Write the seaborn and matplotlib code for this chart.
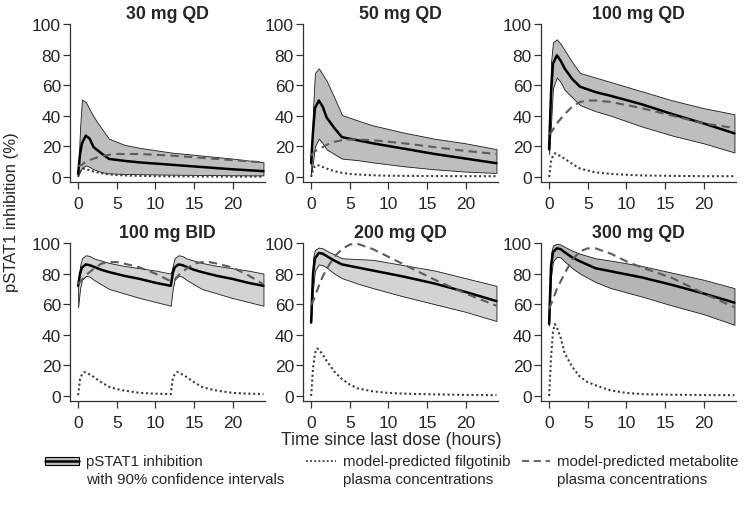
import matplotlib
matplotlib.use("Agg")
import numpy as np
import pandas as pd
import matplotlib.pyplot as plt
import seaborn as sns
from matplotlib.patches import Rectangle
from matplotlib.lines import Line2D

sns.set_style("ticks")
plt.rcParams['font.family'] = ['Liberation Sans', 'DejaVu Sans']

# ---------------- data ----------------
panels = ["30 mg QD", "50 mg QD", "100 mg QD", "100 mg BID", "200 mg QD", "300 mg QD"]

t_qd = [0, 0.25, 0.5, 1, 1.5, 2, 3, 4, 6, 8, 12, 16, 20, 24]
t_bid = [0, 0.25, 0.5, 1, 1.5, 2, 3, 4, 6, 8, 10, 12,
         12.25, 12.5, 13, 13.5, 14, 15, 16, 18, 20, 22, 24]

t_pk = [0, 0.25, 0.5, 0.75, 1, 1.5, 2, 3, 4, 5, 6, 8, 10, 12, 16, 20, 24]
t_pk_bid = [0, 0.25, 0.5, 0.75, 1, 1.5, 2, 3, 4, 5, 6, 8, 10, 12,
            12.25, 12.5, 12.75, 13, 13.5, 14, 15, 16, 17, 18, 20, 22, 24]

# pSTAT1 inhibition: upper 90% CI, median, lower 90% CI
upper_30 = [2, 32, 50.5, 49, 44, 39.5, 32, 25, 21, 19, 16, 14, 12, 9.6]
median_30 = [2, 15, 22, 27, 25, 19.5, 15.5, 11.8, 10.5, 9.5, 8, 6.5, 5, 3.8]
lower_30 = [1, 3.5, 6, 7.6, 6.5, 5, 3.2, 2.3, 2, 1.8, 1.5, 1.3, 1.1, 1]

upper_50 = [5, 45, 68, 71, 67, 63, 52, 40.5, 37, 33.7, 29, 25, 22, 18.2]
median_50 = [9, 30, 45, 50, 46, 39, 32, 26, 24, 22, 18.5, 15, 12, 9]
lower_50 = [2, 10, 20, 25, 22, 18, 15, 12, 11, 9.5, 7, 5, 3.5, 2.6]

upper_100 = [30, 75, 88, 90, 87, 83, 75, 68, 65, 62, 56, 50, 45, 41]
median_100 = [18, 55, 74, 79.5, 76, 71, 64, 59, 55.5, 53, 47.5, 41, 35, 28.5]
lower_100 = [15, 35, 58, 65, 62, 57, 52, 47, 43, 40, 33, 27, 22, 16]

upper_bid = [72, 85, 90, 92, 91.5, 90, 88.5, 87, 85, 83.5, 82, 80,
             85, 90, 92, 91.5, 90, 88.5, 87, 85, 83.5, 82, 80]
median_bid = [72, 80, 84, 86, 85.5, 84.5, 82.5, 81, 78.5, 76.5, 74, 72,
              80, 84, 86, 85.5, 84.5, 82.5, 81, 78.5, 76.5, 74, 72]
lower_bid = [58, 70, 76, 78.5, 78, 76, 73, 70, 67, 64, 61.5, 59,
             70, 76, 78.5, 78, 76, 73, 70, 67, 64, 61.5, 59]

upper_200 = [60, 90, 95.5, 97, 96.5, 95, 92.5, 90, 89.5, 89, 85.5, 82, 77, 72]
median_200 = [48, 80, 90, 93.5, 93, 91.5, 88.5, 86, 84, 82, 78, 73.5, 68, 62]
lower_200 = [48, 70, 82, 86, 85.5, 84, 80, 77, 73.5, 70.5, 65, 60, 55, 49]

upper_300 = [60, 93, 98.5, 99.5, 99, 97.5, 95, 93, 90, 88.5, 85, 80.5, 76, 70.5]
median_300 = [47, 85, 94, 96.5, 96, 94, 90.5, 88, 83.5, 81.5, 77.5, 72.5, 67, 61]
lower_300 = [46, 78, 88, 91, 90.5, 88, 83.5, 80, 74.5, 70.5, 65, 59, 53.5, 46.5]

# model-predicted metabolite plasma concentrations
metab_30 = [7, 7.5, 8, 9, 10, 11, 12, 13.5, 14.5, 15, 15, 15, 14.5, 14, 12.5, 11, 9.5]
metab_50 = [14, 15.5, 17, 17.5, 18, 19.5, 21, 23, 24, 24.5, 24.5, 24, 23, 22, 19.5, 17, 15]
metab_100 = [28, 29, 31, 33, 35, 38, 41, 46, 49, 50, 50, 49, 47, 45, 40, 35, 32]
metab_bid = [73, 74.5, 76, 77.5, 79, 81, 83, 86.5, 87.5, 87.5, 86.5, 84, 80, 75,
             75.5, 76, 77.5, 79, 81, 83, 86.5, 87.5, 87.5, 86.5, 84, 79, 73]
metab_200 = [59.5, 62, 65, 68.5, 72, 78, 83, 91, 96, 99, 99.5, 96, 91, 86, 76, 67, 59]
metab_300 = [57, 60, 63, 66.5, 70, 75, 80, 89, 94.5, 96.5, 96.5, 93, 88, 84, 77, 67, 58]

# model-predicted filgotinib plasma concentrations
filg_30 = [0, 3.5, 5, 5.5, 5.2, 4.3, 3.5, 2.5, 1.7, 1.3, 1, 0.7, 0.5, 0.4, 0.3, 0.2, 0.2]
filg_50 = [0, 5, 7, 7.8, 7.5, 6.5, 5.5, 3.8, 2.7, 2, 1.6, 1.1, 0.8, 0.7, 0.6, 0.5, 0.5]
filg_100 = [0, 10, 14, 15.5, 15, 13.5, 12, 8.5, 5.5, 4.2, 3, 2, 1.4, 1, 0.7, 0.5, 0.5]
filg_bid = [0.5, 11, 14, 15.5, 15.5, 14, 12.5, 9, 6, 4.5, 3.5, 2, 1.5, 1.2,
            11, 14, 15.5, 15.5, 14, 12.5, 9, 6, 4.5, 3.5, 2, 1.5, 1.2]
filg_200 = [0, 18, 28, 31, 30.5, 27, 23, 16, 11, 7.5, 5, 3, 2, 1.5, 1, 0.7, 0.5]
filg_300 = [0, 25, 42, 47, 45, 38, 28, 19, 12.5, 9, 7, 3.5, 2, 1.2, 0.8, 0.6, 0.5]

band_colors = ["#bebebe", "#bebebe", "#bebebe", "#d3d3d3", "#d3d3d3", "#b5b5b5"]

series = [
    (t_qd, upper_30, median_30, lower_30, t_pk, metab_30, filg_30),
    (t_qd, upper_50, median_50, lower_50, t_pk, metab_50, filg_50),
    (t_qd, upper_100, median_100, lower_100, t_pk, metab_100, filg_100),
    (t_bid, upper_bid, median_bid, lower_bid, t_pk_bid, metab_bid, filg_bid),
    (t_qd, upper_200, median_200, lower_200, t_pk, metab_200, filg_200),
    (t_qd, upper_300, median_300, lower_300, t_pk, metab_300, filg_300),
]

xticks = [0, 5, 10, 15, 20]
yticks = [0, 20, 40, 60, 80, 100]

# ---------------- figure ----------------
W, H = 749, 506
fig = plt.figure(figsize=(W / 100, H / 100), dpi=100)

col_left = [70, 303, 541]
row_top = [25, 244]
ax_w, ax_h = 195, 158

spine_col = "#333333"
for i, (name, s) in enumerate(zip(panels, series)):
    r, c = divmod(i, 3)
    ax = fig.add_axes([col_left[c] / W, 1 - (row_top[r] + ax_h) / H, ax_w / W, ax_h / H])
    t, up, med, lo, tp, met, fil = s
    ax.fill_between(t, lo, up, facecolor=band_colors[i], edgecolor="#1a1a1a", linewidth=0.6)
    dfb = pd.DataFrame({"t": t, "median": med})
    dfp = pd.DataFrame({"t": tp, "metab": met, "filg": fil})
    sns.lineplot(data=dfp, x="t", y="filg", ax=ax, color="#3c3c3c", linewidth=1.5,
                 linestyle=(0, (1, 1.3)), sort=False)
    sns.lineplot(data=dfb, x="t", y="median", ax=ax, color="black", linewidth=1.8, sort=False)
    sns.lineplot(data=dfp, x="t", y="metab", ax=ax, color="#5c5c5c", linewidth=1.5,
                 linestyle=(0, (4, 2.5)), sort=False)
    ax.set_xlim(-1.05, 24.2)
    ax.set_ylim(-3.3, 100)
    ax.set_xticks(xticks)
    ax.set_yticks(yticks)
    ax.set_xlabel("")
    ax.set_ylabel("")
    ax.set_title(name, fontsize=12.8, fontweight="bold", pad=4.5)
    for sp in ["top", "right"]:
        ax.spines[sp].set_visible(False)
    for sp in ["left", "bottom"]:
        ax.spines[sp].set_linewidth(0.9)
        ax.spines[sp].set_color(spine_col)
    ax.tick_params(axis="both", direction="out", length=5, width=0.9, color=spine_col,
                   labelsize=12.5, pad=1.5)
    ax.tick_params(axis="x", pad=5)
    for ln in ax.lines:
        ln.set_clip_on(False)

fig.text(0.016, 1 - 212 / H, "pSTAT1 inhibition (%)", rotation=90, ha="center", va="center",
         fontsize=12)
fig.text(391 / W, 1 - 441 / H, "Time since last dose (hours)", ha="center", va="center",
         fontsize=12.7)

# legend drawn in a pixel-coordinate overlay
lax = fig.add_axes([0, 0, 1, 86 / H])
lax.set_xlim(0, W)
lax.set_ylim(506, 420)
lax.axis("off")
ly1, ly2 = 462, 480
lax.add_patch(Rectangle((45, ly1 - 4), 34, 8, facecolor="#bebebe", edgecolor="black", linewidth=0.8))
lax.add_line(Line2D([45, 79], [ly1, ly1], color="black", linewidth=1.8))
lax.add_line(Line2D([306, 336], [ly1, ly1], color="#3c3c3c", linewidth=1.3, linestyle=(0, (1, 1.3))))
lax.add_line(Line2D([522, 550], [ly1, ly1], color="#5c5c5c", linewidth=1.3, linestyle=(0, (4, 2.5))))
lfs = 10.8
lax.text(86, ly1, "pSTAT1 inhibition", fontsize=lfs, va="center", ha="left")
lax.text(86, ly2, "with 90% confidence intervals", fontsize=lfs, va="center", ha="left")
lax.text(343, ly1, "model-predicted filgotinib", fontsize=lfs, va="center", ha="left")
lax.text(343, ly2, "plasma concentrations", fontsize=lfs, va="center", ha="left")
lax.text(557, ly1, "model-predicted metabolite", fontsize=lfs, va="center", ha="left")
lax.text(557, ly2, "plasma concentrations", fontsize=lfs, va="center", ha="left")

fig.savefig("out.png", dpi=100)
